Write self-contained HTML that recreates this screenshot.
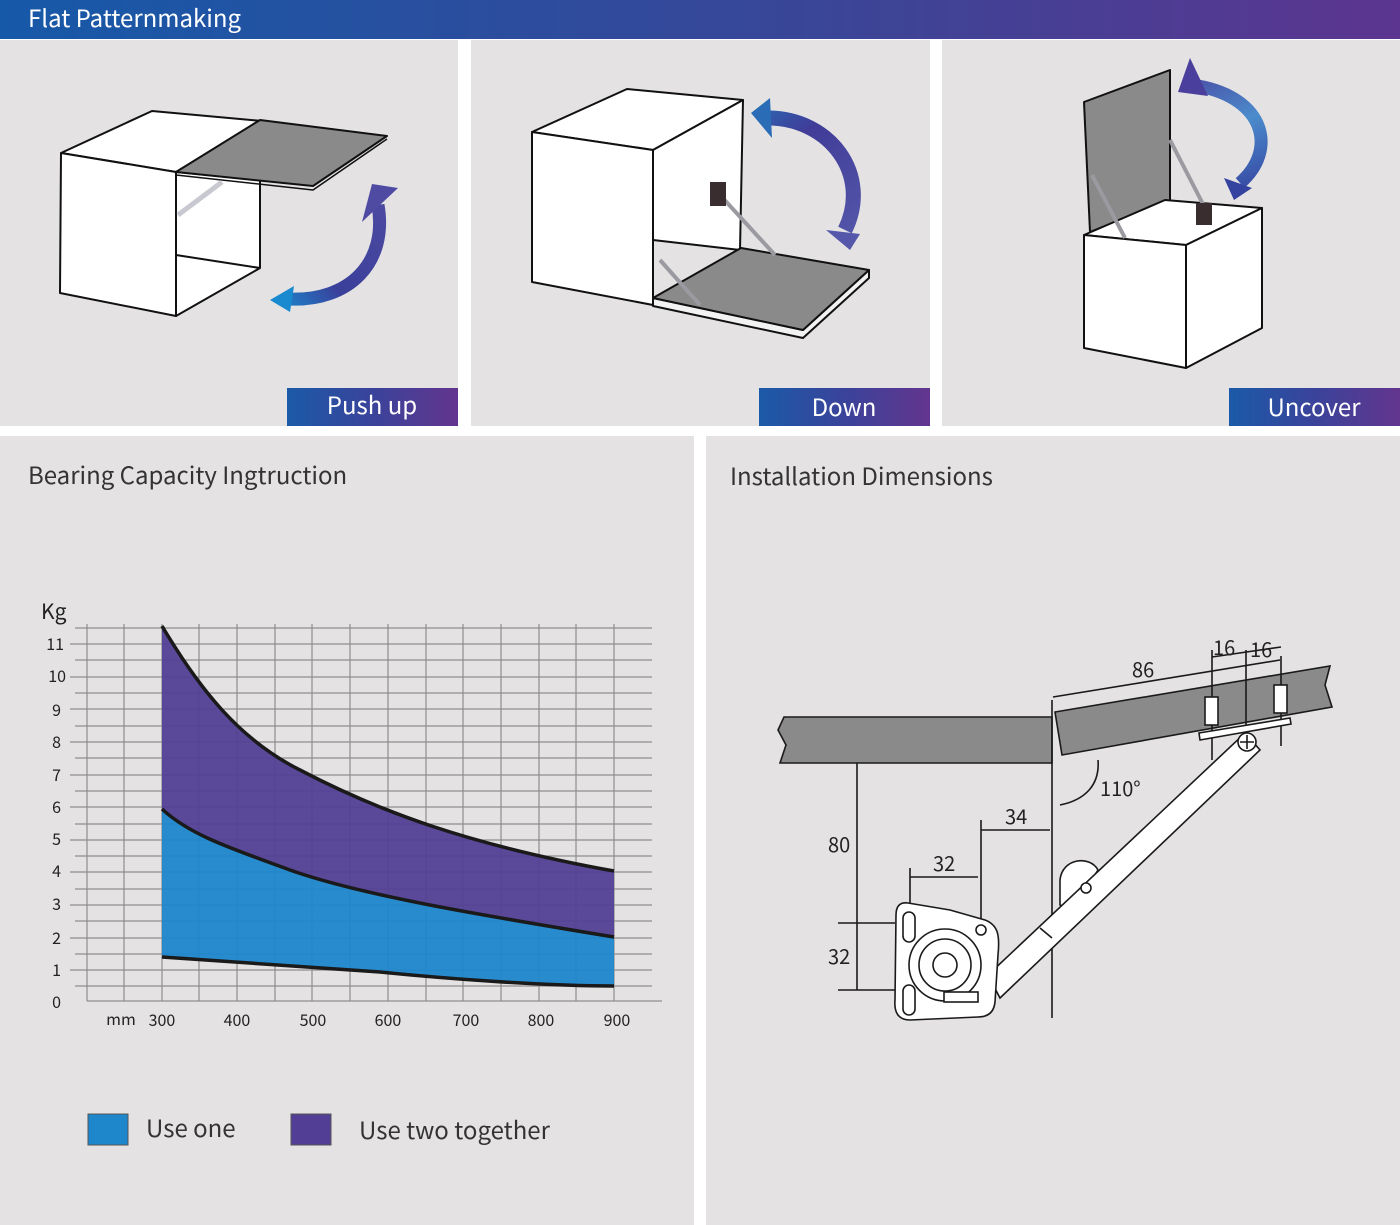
<!DOCTYPE html>
<html><head><meta charset="utf-8"><style>
html,body{margin:0;padding:0;background:#fff}
body{width:1400px;height:1225px;overflow:hidden}
svg{display:block}
text{font-family:"Noto Sans CJK SC","Liberation Sans",sans-serif}
</style></head><body>
<svg width="1400" height="1225" viewBox="0 0 1400 1225" xmlns="http://www.w3.org/2000/svg">
<defs>
<linearGradient id="hb" x1="0" x2="1" y1="0" y2="0"><stop offset="0" stop-color="#1659a8"/><stop offset="0.6" stop-color="#3b4597"/><stop offset="1" stop-color="#5c3590"/></linearGradient>
<linearGradient id="lb" x1="0" x2="1" y1="0" y2="0"><stop offset="0" stop-color="#1b5aa8"/><stop offset="0.5" stop-color="#3a439a"/><stop offset="1" stop-color="#63358e"/></linearGradient>
<linearGradient id="ar1" gradientUnits="userSpaceOnUse" x1="270" y1="300" x2="390" y2="190"><stop offset="0" stop-color="#1a8ad0"/><stop offset="0.35" stop-color="#3a3f9a"/><stop offset="1" stop-color="#4f4ba2"/></linearGradient>
<linearGradient id="ar2" gradientUnits="userSpaceOnUse" x1="750" y1="105" x2="850" y2="250"><stop offset="0" stop-color="#2a6cb5"/><stop offset="0.3" stop-color="#403c98"/><stop offset="1" stop-color="#5558aa"/></linearGradient>
<linearGradient id="ar3" gradientUnits="userSpaceOnUse" x1="1190" y1="60" x2="1240" y2="200"><stop offset="0" stop-color="#4a3f9c"/><stop offset="0.5" stop-color="#4b8ccc"/><stop offset="1" stop-color="#3543a0"/></linearGradient>
</defs>
<rect width="1400" height="1225" fill="#fff"/>
<rect x="0" y="0" width="1400" height="39" fill="url(#hb)"/>
<text x="28" y="27" font-size="24" fill="#fff">Flat Patternmaking</text>
<rect x="0" y="40" width="458" height="386" fill="#e4e2e3"/>
<rect x="471" y="40" width="459" height="386" fill="#e4e2e3"/>
<rect x="942" y="40" width="458" height="386" fill="#e4e2e3"/>
<rect x="287" y="388" width="171" height="38" fill="url(#lb)"/>
<rect x="759" y="388" width="171" height="38" fill="url(#lb)"/>
<rect x="1229" y="388" width="171" height="38" fill="url(#lb)"/>
<text x="372" y="414" font-size="24" fill="#fff" text-anchor="middle">Push up</text>
<text x="844" y="416" font-size="24" fill="#fff" text-anchor="middle">Down</text>
<text x="1314" y="416" font-size="24" fill="#fff" text-anchor="middle">Uncover</text>
<!-- panel 1 -->
<g stroke="#111" stroke-width="2" stroke-linejoin="round">
<polygon points="61,153 152,111 262,121 176,172" fill="#fff"/>
<polygon points="61,153 176,172 176,316 60,293" fill="#fff"/>
<polygon points="176,172 260,180 260,268 176,316" fill="#fff"/>
<polyline points="176,255 260,268" fill="none"/>
<polyline points="176,175 313,190 387,139" fill="none" stroke-width="1.5"/>
<polygon points="176,172 260,120 387,136 313,186" fill="#8a8a8a"/>
</g>
<line x1="178" y1="215" x2="222" y2="182" stroke="#c8c8d0" stroke-width="5"/>
<path d="M288,299 C350,302 388,262 378,205" fill="none" stroke="url(#ar1)" stroke-width="13"/>
<polygon points="362,222 372,184 398,188" fill="#4f4ba2"/>
<polygon points="270,300 294,286 290,312" fill="#1a8ad0"/>
<!-- panel 2 -->
<g stroke="#111" stroke-width="2" stroke-linejoin="round">
<polygon points="532,132 627,89 743,100 653,150" fill="#fff"/>
<polygon points="532,132 653,150 653,305 532,282" fill="#fff"/>
<polygon points="653,150 743,100 740,250 653,240" fill="#fff"/>
<polygon points="653,298 653,306 803,338 869,278 869,270 803,330" fill="#f2f2f2"/>
<polygon points="653,298 741,248 869,270 803,330" fill="#8a8a8a"/>
</g>
<line x1="720" y1="195" x2="775" y2="255" stroke="#9a9aa0" stroke-width="4"/>
<line x1="660" y1="260" x2="700" y2="305" stroke="#9a9aa0" stroke-width="4"/>
<rect x="710" y="182" width="16" height="24" fill="#3a2d30"/>
<path d="M768,118 C830,118 872,175 845,230" fill="none" stroke="url(#ar2)" stroke-width="15"/>
<polygon points="751,113 770,98 772,138" fill="#2a6cb5"/>
<polygon points="850,250 826,230 860,234" fill="#5558aa"/>
<!-- panel 3 -->
<g stroke="#111" stroke-width="2" stroke-linejoin="round">
<polygon points="1084,102 1170,70 1170,200 1090,232" fill="#8a8a8a"/>
<polygon points="1084,235 1165,200 1262,208 1186,245" fill="#fff"/>
<polygon points="1084,235 1186,245 1186,368 1084,348" fill="#fff"/>
<polygon points="1186,245 1262,208 1262,328 1186,368" fill="#fff"/>
</g>
<line x1="1092" y1="175" x2="1125" y2="238" stroke="#9a9aa0" stroke-width="4"/>
<line x1="1170" y1="140" x2="1205" y2="208" stroke="#9a9aa0" stroke-width="4"/>
<rect x="1196" y="203" width="16" height="22" fill="#3a2d30"/>
<path d="M1198,86 C1265,98 1278,150 1240,183" fill="none" stroke="url(#ar3)" stroke-width="13"/>
<polygon points="1190,58 1178,92 1208,96" fill="#4a3f9c"/>
<polygon points="1234,200 1224,178 1252,188" fill="#3543a0"/>
<!-- bottom panels -->
<rect x="0" y="436" width="694" height="789" fill="#e4e2e3"/>
<rect x="706" y="436" width="694" height="789" fill="#e4e2e3"/>
<text x="28" y="484" font-size="24" fill="#333">Bearing Capacity Ingtruction</text>
<text x="730" y="485" font-size="24" fill="#333">Installation Dimensions</text>
<!-- chart grid -->
<g stroke="#8e8e8e" stroke-width="1.2">
<line x1="75" y1="628" x2="652" y2="628"/><line x1="70" y1="644" x2="652" y2="644"/><line x1="75" y1="660" x2="652" y2="660"/><line x1="70" y1="677" x2="652" y2="677"/><line x1="75" y1="693" x2="652" y2="693"/><line x1="70" y1="709" x2="652" y2="709"/><line x1="75" y1="726" x2="652" y2="726"/><line x1="70" y1="742" x2="652" y2="742"/><line x1="75" y1="758" x2="652" y2="758"/><line x1="70" y1="775" x2="652" y2="775"/><line x1="75" y1="791" x2="652" y2="791"/><line x1="70" y1="807" x2="652" y2="807"/><line x1="75" y1="824" x2="652" y2="824"/><line x1="70" y1="840" x2="652" y2="840"/><line x1="75" y1="856" x2="652" y2="856"/><line x1="70" y1="872" x2="652" y2="872"/><line x1="75" y1="889" x2="652" y2="889"/><line x1="70" y1="905" x2="652" y2="905"/><line x1="75" y1="921" x2="652" y2="921"/><line x1="70" y1="938" x2="652" y2="938"/><line x1="75" y1="954" x2="652" y2="954"/><line x1="70" y1="970" x2="652" y2="970"/><line x1="75" y1="986" x2="652" y2="986"/>
<line x1="87" y1="624" x2="87" y2="1001"/><line x1="124" y1="624" x2="124" y2="1001"/><line x1="162" y1="624" x2="162" y2="1001"/><line x1="199" y1="624" x2="199" y2="1001"/><line x1="237" y1="624" x2="237" y2="1001"/><line x1="275" y1="624" x2="275" y2="1001"/><line x1="312" y1="624" x2="312" y2="1001"/><line x1="350" y1="624" x2="350" y2="1001"/><line x1="388" y1="624" x2="388" y2="1001"/><line x1="426" y1="624" x2="426" y2="1001"/><line x1="463" y1="624" x2="463" y2="1001"/><line x1="501" y1="624" x2="501" y2="1001"/><line x1="539" y1="624" x2="539" y2="1001"/><line x1="576" y1="624" x2="576" y2="1001"/><line x1="614" y1="624" x2="614" y2="1001"/>
<line x1="87" y1="1001" x2="662" y2="1001"/>
</g>
<path d="M162,626 C200,690 240,740 300,770 C380,812 470,845 614,871 L614,937 C480,915 360,895 290,870 C230,848 190,835 162,809 Z" fill="#523f95" fill-opacity="0.95"/>
<path d="M162,809 C190,835 230,848 290,870 C360,895 480,915 614,937 L614,986 C540,986 440,978 380,972 C300,966 230,962 162,957 Z" fill="#1e86cb" fill-opacity="0.95"/>
<g fill="none" stroke="#1a1a1a" stroke-width="3.5">
<path d="M162,626 C200,690 240,740 300,770 C380,812 470,845 614,871"/>
<path d="M162,809 C190,835 230,848 290,870 C360,895 480,915 614,937"/>
<path d="M162,957 C230,962 300,966 380,972 C440,978 540,986 614,986"/>
</g>
<g font-size="16" fill="#222" text-anchor="end">
<text x="64" y="650">11</text><text x="66" y="682">10</text><text x="61" y="716">9</text><text x="61" y="748">8</text><text x="61" y="781">7</text><text x="61" y="813">6</text><text x="61" y="845">5</text><text x="61" y="877">4</text><text x="61" y="910">3</text><text x="61" y="944">2</text><text x="61" y="976">1</text><text x="61" y="1008">0</text>
</g>
<text x="41" y="619" font-size="21" fill="#222">Kg</text>
<g font-size="16" fill="#222" text-anchor="middle">
<text x="121" y="1025">mm</text><text x="162" y="1026">300</text><text x="237" y="1026">400</text><text x="313" y="1026">500</text><text x="388" y="1026">600</text><text x="466" y="1026">700</text><text x="541" y="1026">800</text><text x="617" y="1026">900</text>
</g>
<rect x="88" y="1114" width="40" height="31" fill="#1e86cb" stroke="#555" stroke-width="1"/>
<text x="146" y="1137" font-size="24" fill="#333">Use one</text>
<rect x="291" y="1114" width="40" height="31" fill="#523f95" stroke="#555" stroke-width="1"/>
<text x="359" y="1139" font-size="24" fill="#333">Use two together</text>
<!-- installation -->
<g stroke="#1a1a1a" stroke-width="1.6" fill="none">
<path d="M784,717 L1052,717 L1052,763 L780,763 L786,745 L778,730 Z" fill="#8a8a8a"/>
<path d="M1055,712 L1330,666 L1325,685 L1332,707 L1062,755 Z" fill="#8a8a8a"/>
<line x1="1052" y1="700" x2="1052" y2="1018"/>
<line x1="1053" y1="697" x2="1280" y2="660"/>
<line x1="857" y1="763" x2="857" y2="990"/>
<line x1="838" y1="923" x2="895" y2="923"/><line x1="838" y1="990" x2="895" y2="990"/>
<line x1="981" y1="830" x2="1050" y2="830"/><line x1="981" y1="820" x2="981" y2="930"/>
<line x1="910" y1="877" x2="978" y2="877"/><line x1="910" y1="868" x2="910" y2="935"/>
<path d="M1098,760 C1100,785 1085,800 1060,805"/>
<line x1="1212" y1="650" x2="1212" y2="760"/><line x1="1246" y1="650" x2="1246" y2="750"/><line x1="1281" y1="656" x2="1281" y2="746"/>
<line x1="1212" y1="657" x2="1281" y2="647"/>
<rect x="1205" y="697" width="13" height="28" fill="#fff"/>
<rect x="1274" y="685" width="13" height="28" fill="#fff"/>
<path d="M1199,733 L1290,718 L1291,724 L1200,740 Z" fill="#fff"/>
<path d="M1060,880 C1062,858 1090,855 1098,870 L1072,910 L1060,905 Z" fill="#fff"/>
<path d="M988,975 L1245,733 L1260,750 L1000,998 Z" fill="#fff"/>
<line x1="1040" y1="928" x2="1052" y2="938"/>
<circle cx="1086" cy="888" r="5" fill="#fff"/>
<circle cx="1247" cy="742" r="9" fill="#fff"/>
<path d="M1240,742 H1254 M1247,735 V749"/>
<path d="M908,903 L950,910 L985,920 C998,925 1000,935 998,955 L995,1002 C994,1012 988,1017 978,1017 L910,1020 C898,1020 894,1012 895,1000 L896,915 C896,906 900,902 908,903 Z" fill="#fff"/>
<circle cx="945" cy="965" r="36" fill="#fff"/>
<circle cx="945" cy="965" r="26" fill="#fff"/>
<circle cx="945" cy="965" r="12" fill="#fff"/>
<circle cx="981" cy="930" r="5" fill="#fff"/>
<rect x="903" y="912" width="12" height="30" rx="6" fill="#fff"/>
<rect x="903" y="985" width="12" height="30" rx="6" fill="#fff"/>
<rect x="944" y="992" width="34" height="10" fill="#fff"/>
</g>
<g font-size="20" fill="#222">
<text x="828" y="852">80</text><text x="828" y="964">32</text><text x="933" y="871">32</text><text x="1005" y="824">34</text>
<text x="1100" y="796">110°</text><text x="1132" y="677">86</text><text x="1213" y="655">16</text><text x="1250" y="657">16</text>
</g>
</svg>
</body></html>
